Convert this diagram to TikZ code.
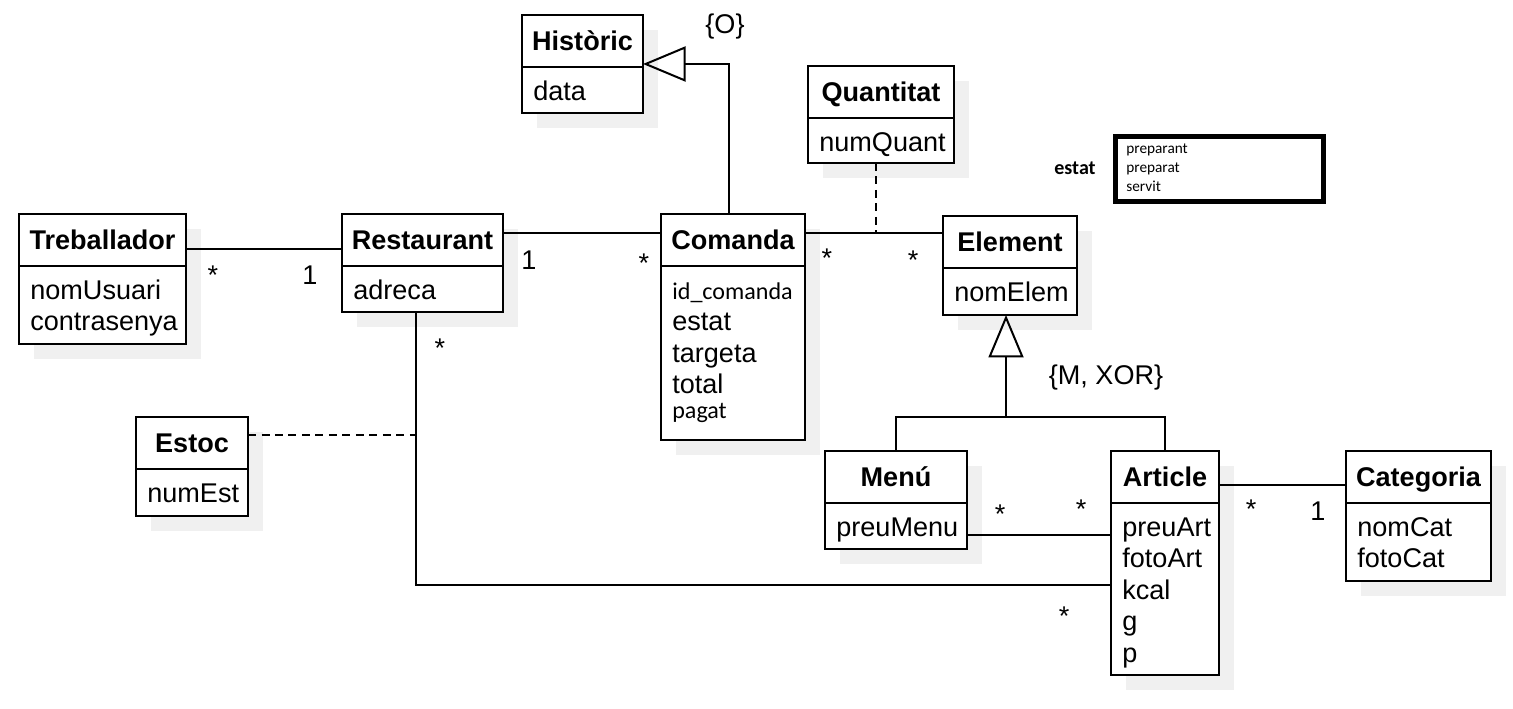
\documentclass[tikz,border=0pt]{standalone}
\usepackage{fontspec}
\setmainfont{Liberation Sans}
\newfontfamily\calfont{Carlito}
\usetikzlibrary{arrows.meta, shadows, calc}

\newcommand{\pxu}{0.02cm}

\tikzset{
  classbox/.style={draw, line width=0.04cm, fill=white, inner sep=0pt, outer sep=0pt, anchor=north west,
    drop shadow={shadow xshift=0.3cm, shadow yshift=-0.3cm, fill=black!6, opacity=1}},
  classname/.style={inner sep=0pt, text height=0.386cm, text depth=0pt,
    font=\fontsize{15.4}{18}\selectfont\bfseries},
  attrs/.style={anchor=north west, align=left, inner sep=0pt, font=\fontsize{15.4}{17.9}\selectfont},
  divider/.style={line width=0.04cm},
  assoc/.style={line width=0.04cm},
  dep/.style={line width=0.04cm, dash pattern=on 0.16cm off 0.11cm},
  inherit/.style={line width=0.04cm, -{Triangle[open, length=0.85cm, width=0.7cm]}},
  mult/.style={anchor=base, inner sep=0pt, font=\fontsize{15.4}{18}\selectfont},
}

% one class: name, x, y (top left), width, height, title, attributes
\newcommand{\umlclass}[7]{%
  \node[classbox, minimum width=#4*\pxu, minimum height=#5*\pxu] (#1) at (#2,#3) {};
  \draw[divider] ([yshift=-52*\pxu]#1.north west) -- ([yshift=-52*\pxu]#1.north east);
  \node[classname] (#1-name) at ([yshift=-26*\pxu]#1.north) {#6};
  \node[attrs] (#1-attrs) at ([xshift=11*\pxu,yshift=-61*\pxu]#1.north west) {\rule{0pt}{0.48cm}#7};
}

\begin{document}
\begin{tikzpicture}[x=0.02cm, y=-0.02cm]
\useasboundingbox (0,0) rectangle (1513,709);

\umlclass{hist}{522}{15}{121}{98}{Històric}{data}
\umlclass{quan}{808}{66}{146}{97}{Quantitat}{numQuant}
\umlclass{trab}{19}{214}{167}{130}{Treballador}{nomUsuari\\contrasenya}
\umlclass{rest}{342}{214}{161}{98}{Restaurant}{adreca}
\umlclass{coma}{661}{214}{144}{226}{Comanda}{{\calfont\fontsize{13.7}{17.9}\selectfont id\_comanda}\\estat\\targeta\\total\\[-0.14cm]{\calfont\fontsize{13.7}{17.9}\selectfont pagat}}
\umlclass{elem}{943}{216}{134}{99}{Element}{nomElem}
\umlclass{esto}{136}{417}{112}{99}{Estoc}{numEst}
\umlclass{menu}{825}{451}{142}{98}{Menú}{preuMenu}
\umlclass{art}{1111}{451}{108}{224}{Article}{preuArt\\fotoArt\\kcal\\g\\p}
\umlclass{cat}{1346}{451}{145}{130}{Categoria}{nomCat\\fotoCat}

% estat values
\node[draw, line width=0.1cm, inner sep=0pt, anchor=north west, minimum width=208*\pxu, minimum height=65*\pxu] (estatbox) at (1112.5,134.5) {};
\node[anchor=north west, align=left, inner sep=0pt, font=\calfont\fontsize{8.7}{10.8}\selectfont] (estatvals) at (1126,141) {\rule{0pt}{0.24cm}preparant\\preparat\\servit};
\node[font=\calfont\fontsize{11.4}{13}\selectfont\bfseries] (estatlabel) at (1075,168) {estat};

% associations
\draw[assoc] ([yshift=-35*\pxu]trab.north east) -- ([yshift=-35*\pxu]rest.north west);
\draw[assoc] ([yshift=-19*\pxu]rest.north east) -- ([yshift=-19*\pxu]coma.north west);
\coordinate (ce) at ([yshift=-19*\pxu]coma.north east);
\draw[assoc] (ce) -- (elem.west |- ce);
\draw[dep] ($(quan.south)+(-5,0)$) -- ($(quan.south |- ce)+(-5,0)$);
\draw[assoc] ([yshift=-84*\pxu]menu.north east) -- ([yshift=-84*\pxu]art.north west);
\draw[assoc] ([yshift=-34*\pxu]art.north east) -- ([yshift=-34*\pxu]cat.north west);
\coordinate (rs) at ($(rest.south)+(-7,0)$);
\draw[assoc] (rs) |- ([yshift=-134*\pxu]art.north west);
\coordinate (eo) at ([yshift=-18*\pxu]esto.north east);
\draw[dep] (eo) -- (rs |- eo);

% generalisations
\draw[inherit] ($(coma.north)+(-4,0)$) |- (hist.east);
\coordinate (gen) at ($(elem.south |- 0,417)+(-4,0)$);
\draw[assoc] (menu.north) |- (gen) -| (art.north);
\draw[inherit] (gen) -- (gen |- elem.south);
\node[font=\fontsize{15.4}{18}\selectfont] (ord) at (725,27) {\{O\}};
\node[font=\fontsize{15.4}{18}\selectfont] (mxor) at (1106,378) {\{M, XOR\}};

% multiplicities
\node[mult] (m1) at (213,285) {*};
\node[mult] (m2) at (310,285) {1};
\node[mult] (m3) at (529,270) {1};
\node[mult] (m4) at (644,273) {*};
\node[mult] (m5) at (827,268) {*};
\node[mult] (m6) at (913,270) {*};
\node[mult] (m7) at (440,357) {*};
\node[mult] (m8) at (1000,523) {*};
\node[mult] (m9) at (1081,518) {*};
\node[mult] (m10) at (1251,518) {*};
\node[mult] (m11) at (1318,520) {1};
\node[mult] (m12) at (1064,625) {*};
\end{tikzpicture}
\end{document}
